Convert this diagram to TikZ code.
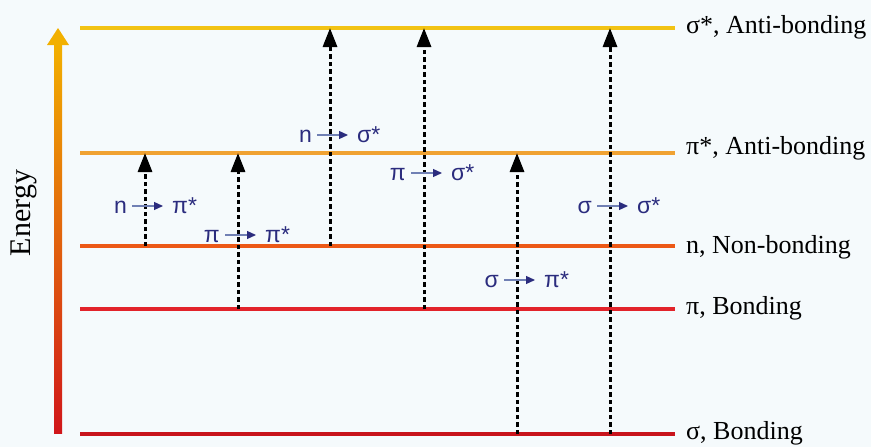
\documentclass[tikz,border=0pt]{standalone}
\usepackage{fontspec}
\setmainfont{Liberation Serif}
\setsansfont{Liberation Sans}
\usepackage{xcolor}
\usetikzlibrary{arrows.meta}

\definecolor{bg}{HTML}{F5FAFC}
\definecolor{lvss}{HTML}{F2C314}
\definecolor{lvps}{HTML}{F0A232}
\definecolor{lvnb}{HTML}{EC5816}
\definecolor{lvpb}{HTML}{E2232A}
\definecolor{lvsb}{HTML}{C8141C}
\definecolor{etop}{HTML}{F2B000}
\definecolor{emid}{HTML}{E85A18}
\definecolor{ebot}{HTML}{D0161A}
\definecolor{tblue}{HTML}{2B2C7E}
\definecolor{tgray}{HTML}{7080B4}

\begin{document}
\begin{tikzpicture}[x=1pt,y=-1pt,
    level/.style={line width=4pt},
    lvlabel/.style={anchor=west,inner sep=0pt,font=\fontsize{26}{30}\selectfont},
    trans/.style={line width=3pt,dash pattern=on 4.5pt off 3pt,-{Triangle[length=19pt,width=14pt]}},
    tlab/.style={inner sep=0pt,text=tblue,font=\sffamily\fontsize{23}{26}\selectfont,text height=15pt,text depth=1pt},
    tarrow/.style={line width=1.2pt,draw=tgray,-{Triangle[length=9pt,width=8pt,color=tblue]},shorten <=5pt,shorten >=9pt}]

    \fill[bg] (0,0) rectangle (871,447);
    \useasboundingbox (0,0) rectangle (871,447);

    %=== Energy axis ===
    \shade[top color=etop, middle color=emid, bottom color=ebot] (54,44) rectangle (62,433);
    \fill[etop] (58,28) -- (69,45) -- (47,45) -- cycle;
    \node[rotate=90,font=\fontsize{30}{34}\selectfont] (energy) at (24,213) {Energy};

    %=== Levels ===
    \foreach \name/\y/\ly/\col/\txt in {ss/28/27/lvss/{σ*, Anti-bonding},
                                        ps/153/148/lvps/{π*, Anti-bonding},
                                        nb/246/247/lvnb/{n, Non-bonding},
                                        pb/309/308/lvpb/{π, Bonding},
                                        sb/434/433/lvsb/{σ, Bonding}} {
        \coordinate (\name) at (80,\y);
        \coordinate (\name-end) at (675,\y);
        \node[lvlabel] (\name-l) at (686,\ly) {\txt};
        \draw[level,\col] (\name) -- (\name-end);
    }

    %=== Transitions ===
    \foreach \i/\x/\y/\lo/\hi/\a/\b in {1/145/206/nb/ps/n/π*,
                                        2/238/235/pb/ps/π/π*,
                                        3/330/135/nb/ss/n/σ*,
                                        4/424/173/pb/ss/π/σ*,
                                        5/517/280/sb/ps/σ/π*,
                                        6/610/206/sb/ss/σ/σ*} {
        \draw[trans] (\x,0 |- \lo) -- (\x,0 |- \hi);
        \node[tlab,anchor=east] (ta\i) at (\x-18,\y) {\a};
        \node[tlab,anchor=west] (tb\i) at (\x+27,\y) {\b};
        \draw[tarrow] (ta\i.east) -- (tb\i.west);
    }
\end{tikzpicture}
\end{document}
